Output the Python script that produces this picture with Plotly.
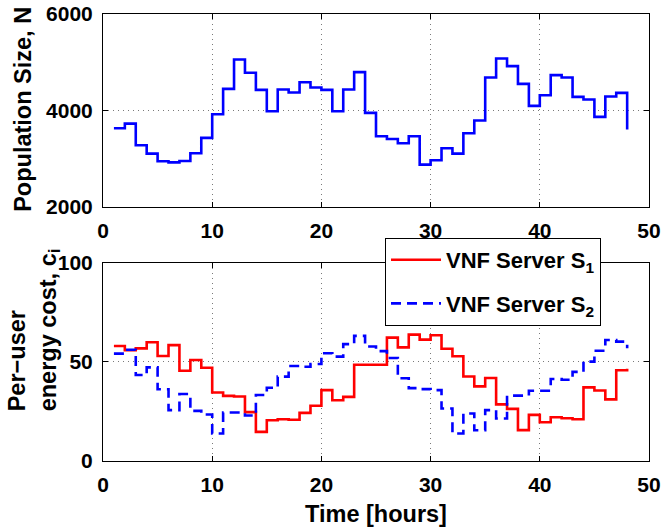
import plotly.graph_objects as go

# Hourly samples (stairs drawn from hour 1 to hour 48)
hours = list(range(1, 49))

# Population size N per hour
population = [3633, 3730, 3280, 3108, 2949, 2927, 2955, 3115, 3433, 3924,
              4450, 5058, 4782, 4429, 3986, 4436, 4373, 4587, 4477, 4429,
              3986, 4436, 4795, 3952, 3467, 3412, 3322, 3467, 2880, 2969,
              3218, 3108, 3529, 3793, 4685, 5079, 4920, 4553, 4097, 4318,
              4733, 4685, 4284, 4228, 3869, 4290, 4367, 3606]

# Per-user energy cost for each VNF server
cost_s1 = [58.1, 55.9, 56.9, 60.0, 53.0, 58.5, 45.6, 51.0, 47.1, 34.6,
           32.9, 32.6, 24.7, 14.7, 20.6, 21.1, 20.8, 24.3, 27.9, 35.8,
           30.7, 32.4, 48.6, 48.6, 48.6, 62.3, 57.4, 63.8, 61.3, 63.5,
           56.7, 52.9, 42.7, 37.7, 41.9, 28.6, 26.3, 15.6, 23.3, 19.6,
           22.1, 21.6, 21.1, 37.2, 35.6, 31.1, 45.8, 46.6]
cost_s2 = [54.2, 56.2, 43.4, 47.3, 36.2, 25.7, 33.8, 25.3, 23.5, 13.9,
           24.5, 24.5, 23.0, 33.3, 37.0, 42.6, 48.0, 47.6, 49.0, 54.4,
           52.7, 59.0, 63.2, 57.8, 55.5, 52.0, 41.8, 36.8, 36.3, 35.8,
           26.5, 13.9, 24.0, 15.5, 25.7, 21.5, 33.0, 33.0, 35.5, 35.5,
           41.4, 41.0, 45.0, 50.2, 55.7, 61.1, 60.3, 57.0]

x_ticks = [0, 10, 20, 30, 40, 50]
pop_ticks = [2000, 4000, 6000]
cost_ticks = [0, 50, 100]

FONT = "Liberation Sans"
tick_font = dict(family=FONT, size=21, color="black", weight="bold")
title_font = dict(family=FONT, size=23.5, color="black", weight="bold")

fig = go.Figure()

fig.add_trace(go.Scatter(
    x=hours, y=population, mode="lines", line_shape="hv",
    line=dict(color="#0000FF", width=2.6),
    xaxis="x", yaxis="y", showlegend=False,
))
fig.add_trace(go.Scatter(
    x=hours, y=cost_s1, mode="lines", line_shape="hv",
    name="VNF Server S<sub>1</sub>", legendgroup="s1",
    line=dict(color="#FF0000", width=2.6),
    xaxis="x2", yaxis="y2",
))
fig.add_trace(go.Scatter(
    x=hours, y=cost_s2, mode="lines", line_shape="hv",
    name="VNF Server S<sub>2</sub>", legendgroup="s2",
    line=dict(color="#0000FF", width=2.6, dash="10px,6px"),
    xaxis="x2", yaxis="y2",
))

axis_style = dict(
    showline=True, linecolor="black", linewidth=1, mirror="ticks",
    ticks="inside", ticklen=5, tickwidth=1, tickcolor="black",
    showgrid=True, gridcolor="#7a7a7a", gridwidth=1, griddash="1px,4px",
    zeroline=False, tickfont=tick_font, ticklabelstandoff=5,
    automargin=False,
)

fig.update_layout(
    width=664, height=532,
    margin=dict(l=103, r=15, t=14, b=71, autoexpand=False),
    paper_bgcolor="white", plot_bgcolor="white",
    xaxis=dict(domain=[0, 1], range=[0, 50], tickvals=x_ticks, anchor="y", **axis_style),
    yaxis=dict(domain=[0.568, 1], range=[2000, 6000], tickvals=pop_ticks, anchor="x", **axis_style),
    xaxis2=dict(domain=[0, 1], range=[0, 50], tickvals=x_ticks, anchor="y2",
                title=dict(text="Time [hours]", font=title_font, standoff=10), **axis_style),
    yaxis2=dict(domain=[0, 0.443], range=[0, 100], tickvals=cost_ticks, anchor="x2", **axis_style),
    legend=dict(
        x=0.5165, y=0.499, xanchor="left", yanchor="top",
        bgcolor="white", bordercolor="black", borderwidth=1,
        font=dict(family=FONT, size=22, color="black", weight="bold"),
        tracegroupgap=12, itemwidth=50,
    ),
    annotations=[
        dict(text="Population Size, N", textangle=-90, font=title_font,
             xref="paper", yref="paper", x=-0.148, y=0.786,
             xanchor="center", yanchor="middle", showarrow=False),
        dict(text="Per\u2212user<br>energy cost, c<sub>i</sub>", textangle=-90,
             font=title_font, align="left",
             xref="paper", yref="paper", x=-0.127, y=0.107,
             xanchor="center", yanchor="bottom", showarrow=False),
    ],
)

fig.write_html("out.html")
